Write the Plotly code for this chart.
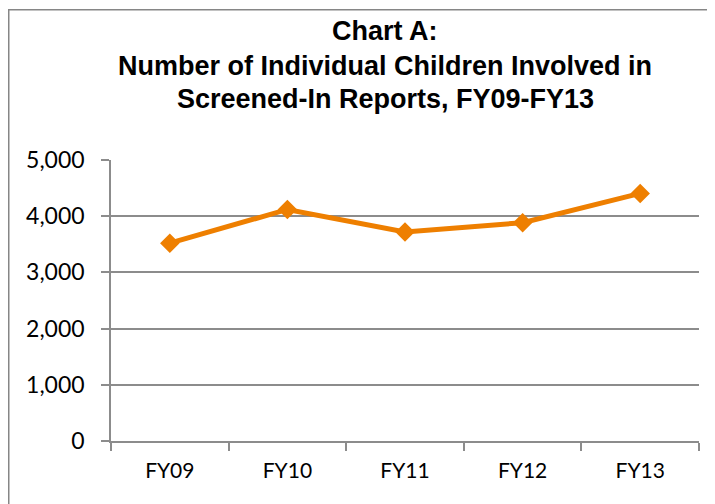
import plotly.graph_objects as go

categories = ["FY09", "FY10", "FY11", "FY12", "FY13"]
children = [3520, 4120, 3720, 3885, 4405]
y_ticks = [0, 1000, 2000, 3000, 4000, 5000]
y_tick_labels = ["0", "1,000", "2,000", "3,000", "4,000", "5,000"]
title_lines = [
    "Chart A:",
    "Number of Individual Children Involved in",
    "Screened-In Reports, FY09-FY13",
]

# the page body adds an 8px offset, so the figure is 8px smaller than the window
OFF = 8
W, H = 715 - OFF, 504 - OFF
L, R, T, B = 111 - OFF, 715 - 699, 160 - OFF, 504 - 441
pw, ph = W - L - R, H - T - B

def px_x(x):
    return (x - OFF - L) / pw

def px_y(y):
    return (H - B - (y - OFF)) / ph

fig = go.Figure()
fig.add_trace(go.Scatter(
    x=categories, y=children, mode="lines+markers",
    line=dict(color="#EE7F00", width=5),
    marker=dict(symbol="diamond", size=15, color="#EE7F00"),
    showlegend=False, hoverinfo="skip",
))

title_font = dict(family="Liberation Sans, Arial", size=27, color="black", weight="bold")
title_y = [31, 66, 99]
annotations = [
    dict(text=t, x=px_x(385), y=px_y(yy), xref="paper", yref="paper",
         xanchor="center", yanchor="middle", showarrow=False, font=title_font)
    for t, yy in zip(title_lines, title_y)
]

grid = "#8C8C8C"
fig.update_layout(
    width=W, height=H,
    margin=dict(l=L, r=R, t=T, b=B),
    paper_bgcolor="white", plot_bgcolor="white",
    annotations=annotations,
    xaxis=dict(
        type="category", range=[-0.5, 4.5],
        showline=True, linecolor=grid, linewidth=1.5,
        ticks="outside", tickson="boundaries", ticklen=8, tickcolor=grid, tickwidth=1.5,
        showgrid=False, zeroline=False,
        tickfont=dict(family="Lato", size=21, color="black"),
        ticklabelstandoff=10,
    ),
    yaxis=dict(
        range=[0, 5000], tickvals=y_ticks, ticktext=y_tick_labels,
        showline=True, linecolor=grid, linewidth=1.5,
        ticks="outside", ticklen=8, tickcolor=grid, tickwidth=1.5,
        showgrid=True, gridcolor=grid, gridwidth=1.5, zeroline=False,
        tickfont=dict(family="Lato", size=23, color="black"),
        ticklabelstandoff=12,
    ),
    shapes=[dict(
        type="rect", xref="paper", yref="paper",
        x0=px_x(8.75), x1=px_x(760), y0=px_y(560), y1=px_y(9.75),
        line=dict(color="#868686", width=1.5), fillcolor="rgba(0,0,0,0)", layer="above",
    )],
)

fig.write_html("out.html")
